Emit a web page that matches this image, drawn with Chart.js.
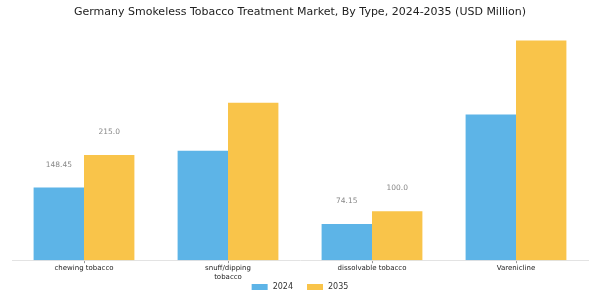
<!DOCTYPE html>
<html>
<head>
<meta charset="utf-8">
<script src="https://cdn.jsdelivr.net/npm/chart.js@4/dist/chart.umd.min.js"></script>
<style>
	html, body { margin: 0; padding: 0; background: #fff; }
	#wrap { width: 600px; height: 300px; }
</style>
</head>
<body>
<div id="wrap"><canvas id="bar-chartcanvas"></canvas></div>
<script>
// data
var categories = ["chewing tobacco", ["snuff/dipping", "tobacco"], "dissolvable tobacco", "Varenicline"];
var values2024 = [148.45, 224, 74.15, 298];
var values2035 = [215.0, 322, 100.0, 449];
var labels2024 = ["148.45", null, "74.15", null];
var labels2035 = ["215.0", null, "100.0", null];

// value labels above some bars
var valueLabels = {
	id: "valueLabels",
	afterDatasetsDraw: function(chart) {
		var ctx = chart.ctx;
		var texts = [labels2024, labels2035];
		ctx.save();
		ctx.font = "7.5px 'DejaVu Sans'";
		ctx.fillStyle = "#888";
		ctx.textAlign = "center";
		ctx.textBaseline = "middle";
		chart.data.datasets.forEach(function(ds, i) {
			chart.getDatasetMeta(i).data.forEach(function(bar, j) {
				if (texts[i][j]) {
					ctx.fillText(texts[i][j], bar.x, bar.y - 23);
				}
			});
		});
		ctx.restore();
	}
};

// legend drawn by hand so the item spacing can be wider than the row padding
var bottomLegend = {
	id: "bottomLegend",
	afterDraw: function(chart) {
		var ctx = chart.ctx;
		var sets = chart.data.datasets;
		var boxW = 16, boxH = 6, gap = 5, itemGap = 14;
		var y = 287;
		ctx.save();
		ctx.font = "8px 'DejaVu Sans'";
		ctx.textBaseline = "middle";
		ctx.textAlign = "left";
		var total = 0;
		sets.forEach(function(ds, i) {
			total += boxW + gap + ctx.measureText(ds.label).width;
			if (i > 0) total += itemGap;
		});
		var x = chart.width / 2 - total / 2;
		sets.forEach(function(ds) {
			ctx.fillStyle = ds.backgroundColor;
			ctx.fillRect(x, y - boxH / 2, boxW, boxH);
			x += boxW + gap;
			ctx.fillStyle = "#333";
			ctx.fillText(ds.label, x, y);
			x += ctx.measureText(ds.label).width + itemGap;
		});
		ctx.restore();
	}
};

var ctx = document.getElementById("bar-chartcanvas");

var data = {
	labels: categories,
	datasets: [
		{
			label: "2024",
			data: values2024,
			backgroundColor: "#5DB4E7",
			categoryPercentage: 0.7,
			barPercentage: 1.0
		},
		{
			label: "2035",
			data: values2035,
			backgroundColor: "#F9C44A",
			categoryPercentage: 0.7,
			barPercentage: 1.0
		}
	]
};

var options = {
	responsive: true,
	maintainAspectRatio: false,
	animation: false,
	layout: { padding: { left: 12, right: 12, top: 0, bottom: 18 } },
	plugins: {
		title: {
			display: true,
			text: "Germany Smokeless Tobacco Treatment Market, By Type, 2024-2035 (USD Million)",
			color: "#222",
			font: { family: "DejaVu Sans", size: 11, weight: "normal" },
			padding: { top: 6, bottom: 16 }
		},
		legend: { display: false },
		tooltip: { enabled: false }
	},
	scales: {
		x: {
			grid: { display: true, drawOnChartArea: false, offset: false, tickLength: 3, color: "#999" },
			border: { display: true, color: "#e3e3e3" },
			ticks: {
				color: "#222",
				font: { family: "DejaVu Sans", size: 7 },
				maxRotation: 0,
				padding: 1
			}
		},
		y: {
			display: false,
			min: 0,
			max: 460
		}
	}
};

var chart = new Chart(ctx, {
	type: "bar",
	data: data,
	options: options,
	plugins: [valueLabels, bottomLegend]
});
</script>
</body>
</html>
